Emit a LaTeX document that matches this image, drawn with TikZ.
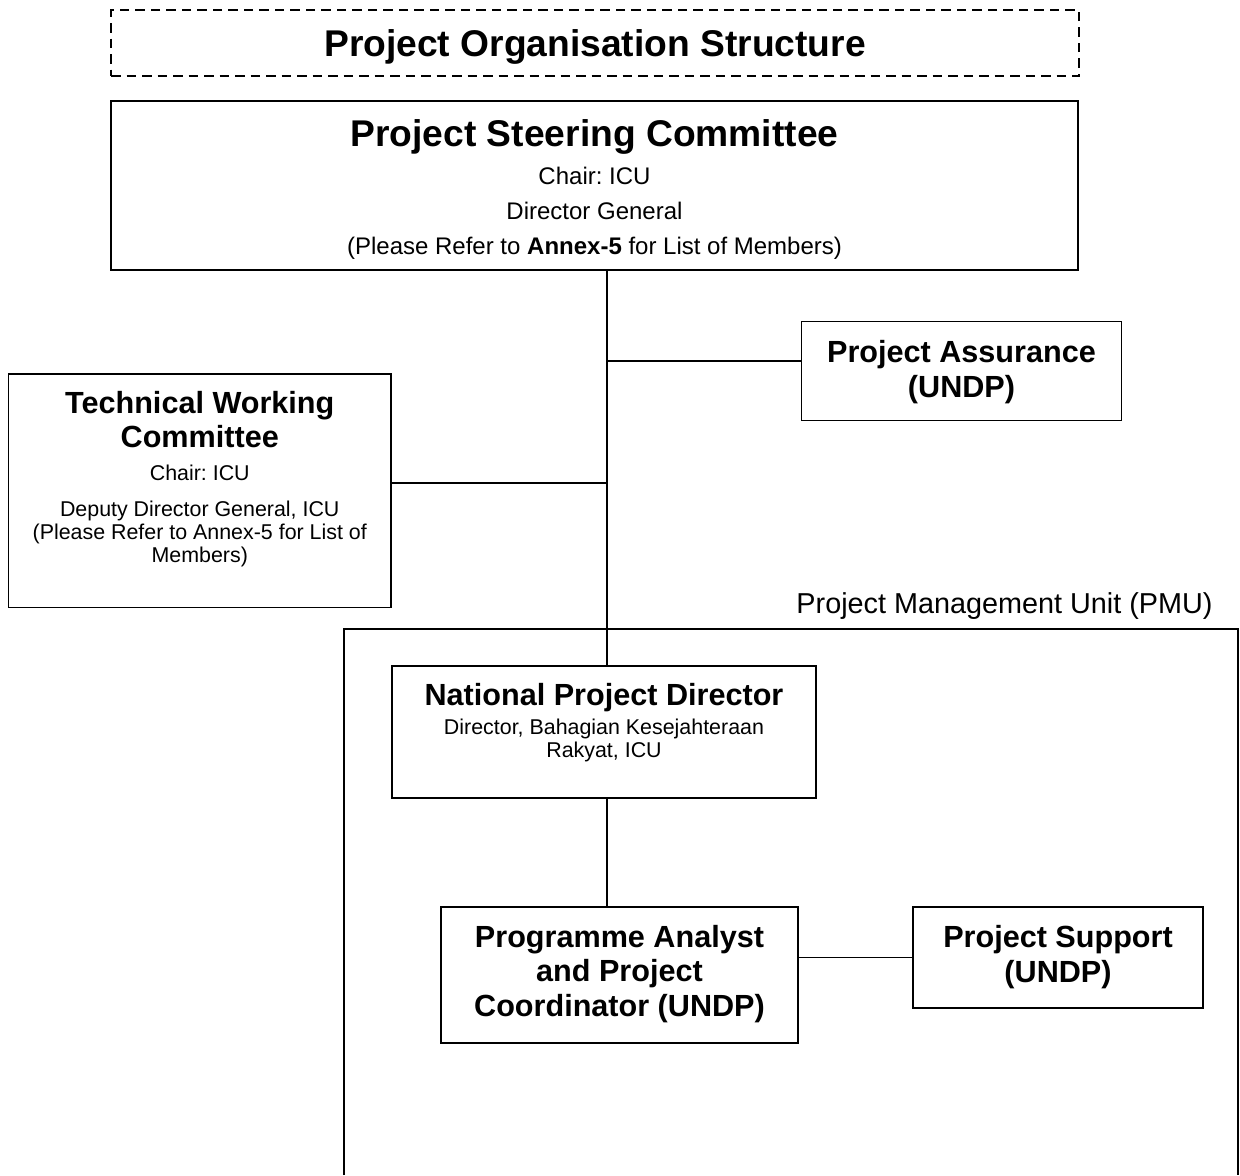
\documentclass[tikz,border=0pt]{standalone}
\usepackage{fontspec}
\setmainfont{Liberation Sans}
\usetikzlibrary{positioning}

% keep the baselineskip even when big and small lines meet
\lineskiplimit=-\maxdimen
\frenchspacing

\newcommand{\headfont}{\fontsize{18.6}{20}\selectfont\bfseries}
\newcommand{\boxfont}{\fontsize{15.3}{17.5}\selectfont\bfseries}
\newcommand{\notefont}{\fontsize{10.7}{11.5}\selectfont}

\tikzset{
  orgbox/.style={draw, line width=0.9pt, inner sep=0pt},
  boxtext/.style={anchor=north, align=center, inner sep=0pt},
  link/.style={line width=0.75pt},
}

\begin{document}
\begin{tikzpicture}[x=0.5pt,y=-0.5pt]
\useasboundingbox (0,0) rectangle (1240,1175);

%Heading
\node[orgbox, dash pattern=on 4.75pt off 3pt, minimum width=484pt, minimum height=33pt, text depth=0pt, font=\headfont] (title) at (595,43) {Project Organisation Structure};

%Steering committee
\node[orgbox, minimum width=483.5pt, minimum height=84.5pt] (psc) at (594.5,185.5) {};
\node[boxtext, font=\fontsize{12}{17.5}\selectfont] (psc-text) at ([yshift=-9.4pt]psc.north)
  {{\headfont Project Steering Committee}\\[1.65pt]
   Chair: ICU\\
   Director General\\
   (Please Refer to \textbf{Annex-5} for List of Members)};

%Side boxes
\node[orgbox, minimum width=160pt, minimum height=49.5pt] (pa) at (961.5,371) {};
\node[boxtext, font=\boxfont] (pa-text) at ([yshift=-9.6pt]pa.north) {Project Assurance\\(UNDP)};

\node[orgbox, minimum width=191.25pt, minimum height=116.75pt] (twc) at (199.75,490.75) {};
\node[boxtext, font=\notefont] (twc-text) at ([yshift=-8.85pt]twc.north)
  {{\boxfont Technical Working}\\[5.5pt]
   {\boxfont Committee}\\[4.85pt]
   Chair: ICU\\[6.5pt]
   Deputy Director General, ICU\\
   (Please Refer to Annex-5 for List of\\
   Members)};

%PMU frame, open at the bottom
\draw[line width=0.9pt] (344,1175) -- (344,629) -- (1238,629) -- (1238,1175);
\node[anchor=base east, inner sep=0pt, font=\fontsize{14.4}{16}\selectfont] (pmu) at (1213,613) {Project Management Unit (PMU)};

\node[orgbox, minimum width=212pt, minimum height=66pt] (npd) at (604,732) {};
\node[boxtext, font=\notefont] (npd-text) at ([yshift=-8.85pt]npd.north)
  {{\boxfont National Project Director}\\[2.85pt]
   Director, Bahagian Kesejahteraan\\
   Rakyat, ICU};

\node[orgbox, minimum width=178.5pt, minimum height=68pt] (papc) at (619.5,975) {};
\node[boxtext, font=\fontsize{15.3}{17.25}\selectfont\bfseries] (papc-text) at ([yshift=-9.35pt]papc.north)
  {Programme Analyst\\and Project\\Coordinator (UNDP)};

\node[orgbox, minimum width=145pt, minimum height=50.5pt] (ps) at (1058,957.5) {};
\node[boxtext, font=\boxfont] (ps-text) at ([yshift=-9.35pt]ps.north) {Project Support\\(UNDP)};

%Reporting lines
\coordinate (trunk) at (607,0);
\coordinate (jpa) at (607,361);
\coordinate (jtwc) at (607,483);
\draw[link] (psc.south -| trunk) -- (npd.north -| trunk);
\draw[link] (npd.south -| trunk) -- (papc.north -| trunk);
\draw[link] (jpa) -- (jpa -| pa.west);
\draw[link] (jtwc) -- (jtwc -| twc.east);
\draw[link] (papc.east |- ps.west) -- (ps.west);
\end{tikzpicture}
\end{document}
